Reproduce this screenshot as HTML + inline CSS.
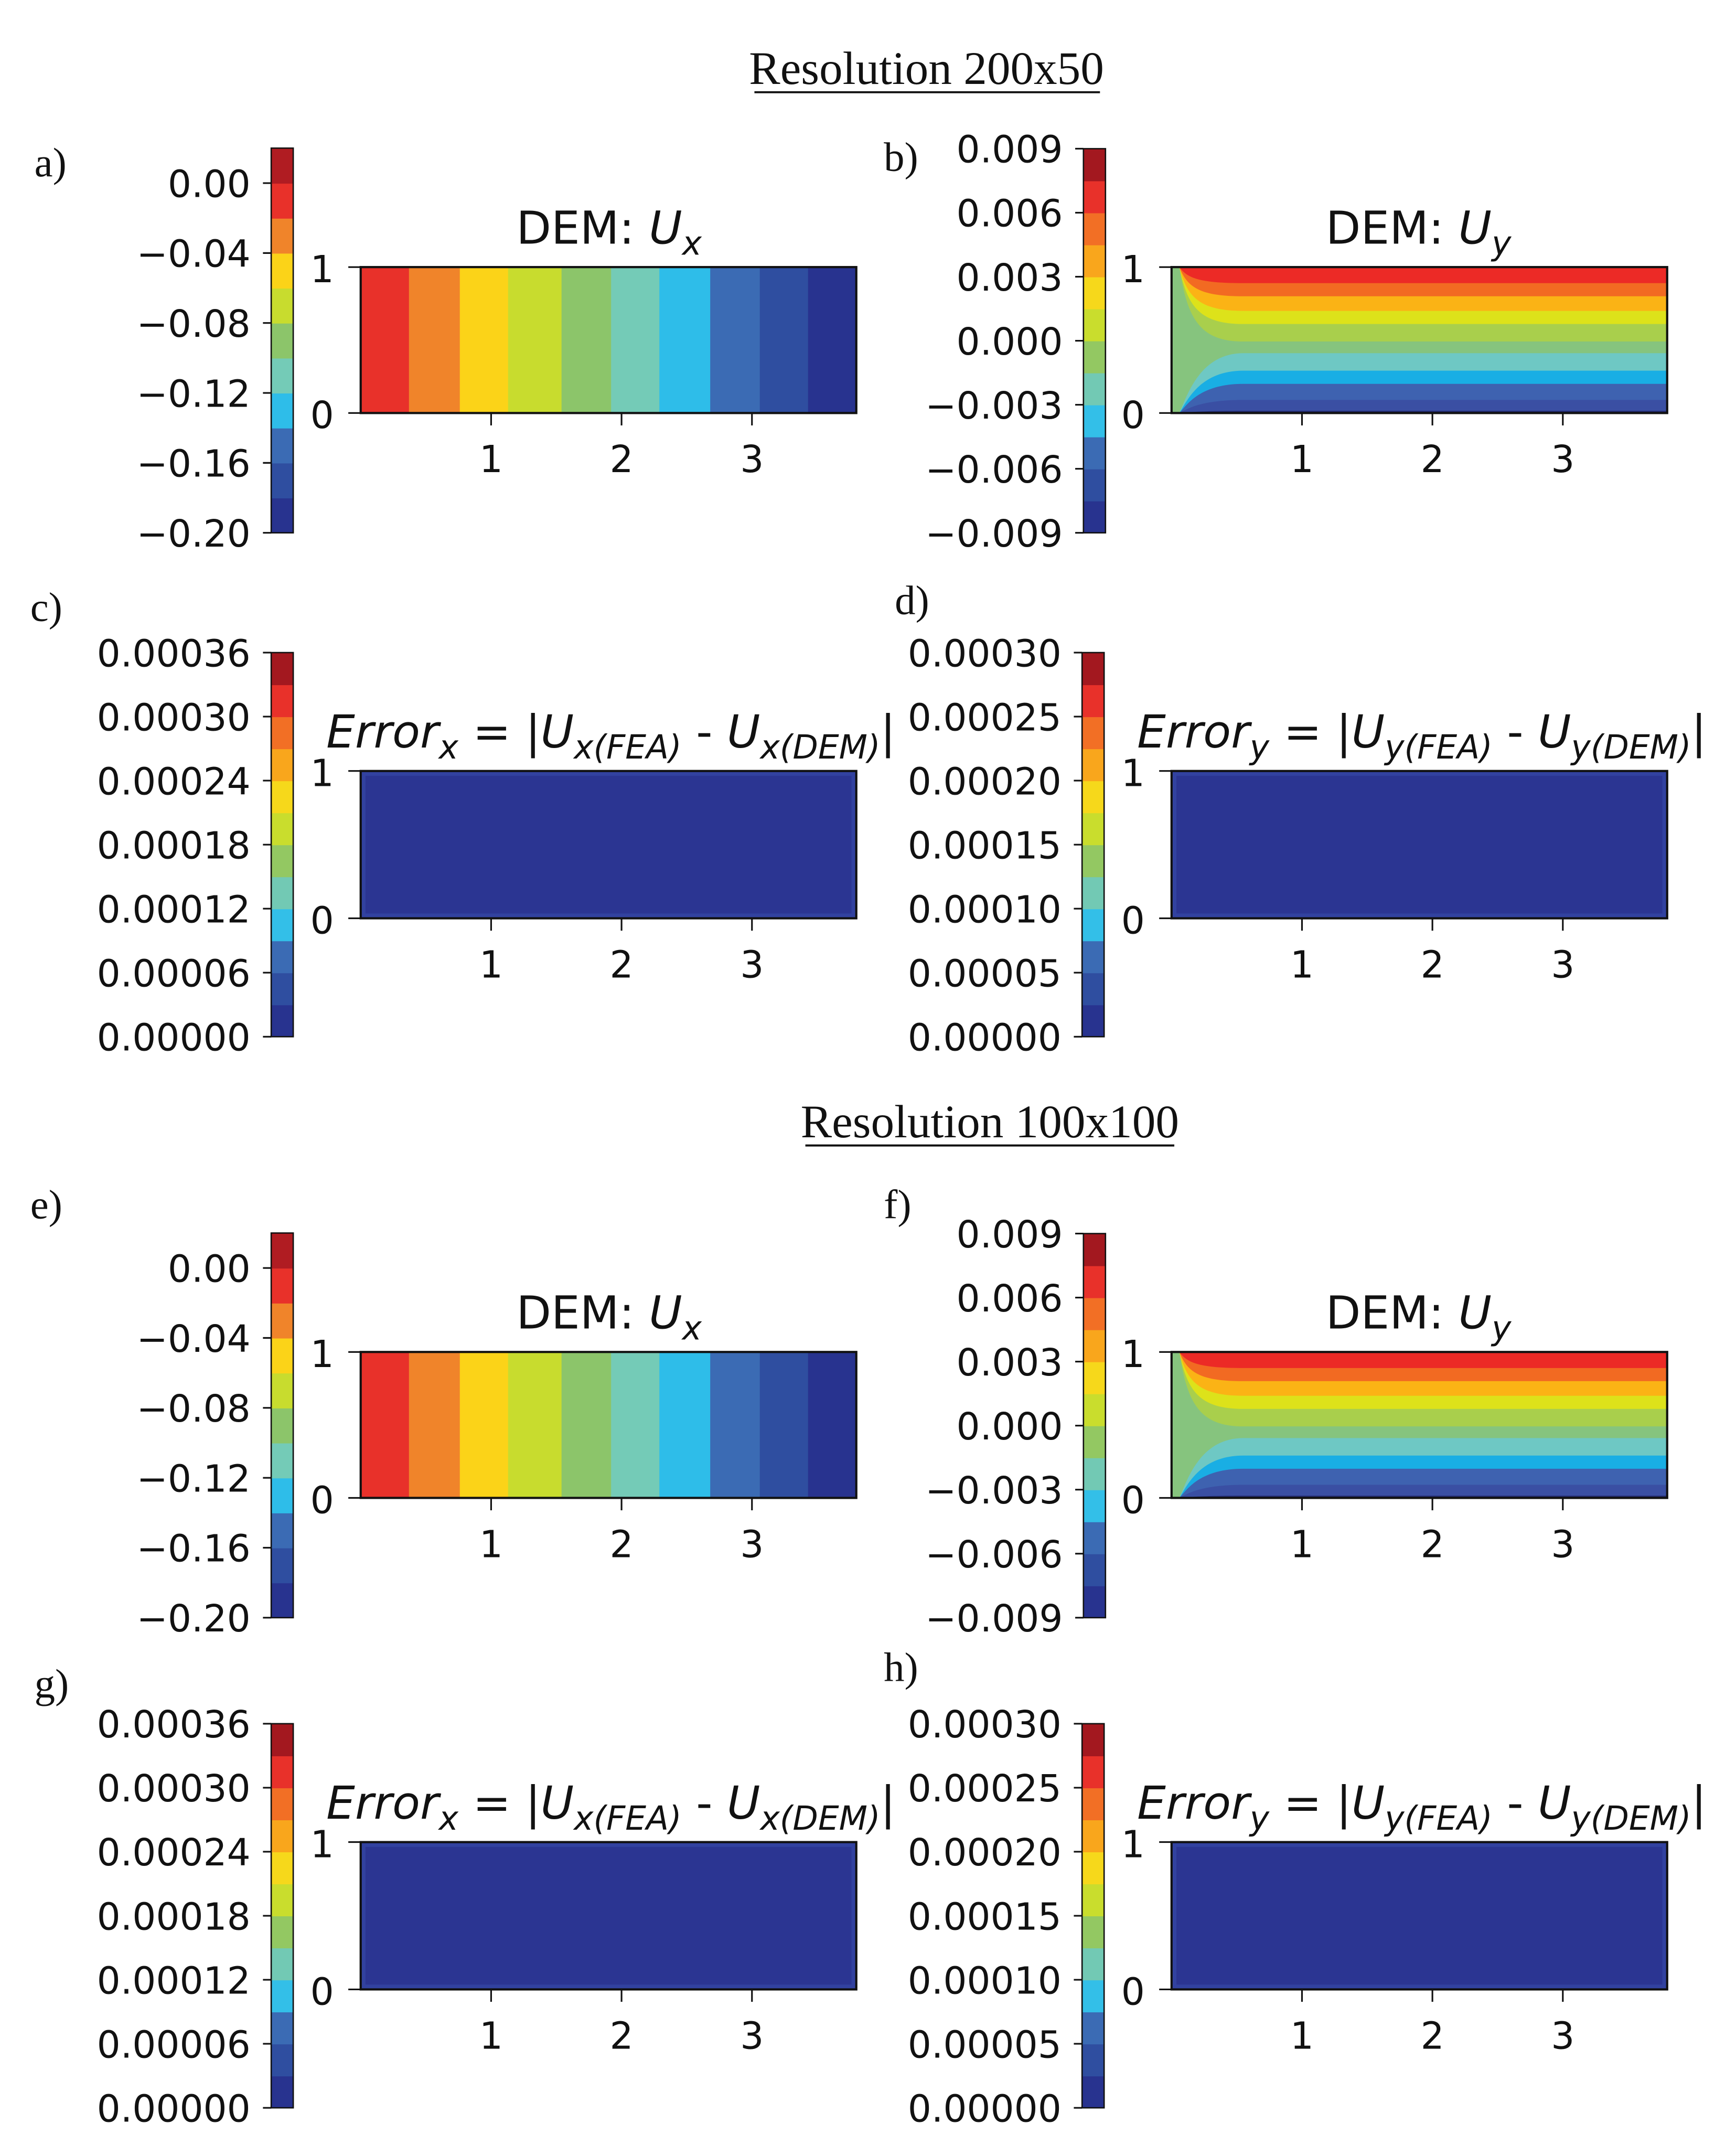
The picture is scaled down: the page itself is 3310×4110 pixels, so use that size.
<!DOCTYPE html>
<html><head><meta charset="utf-8"><style>
html,body{margin:0;padding:0;background:#fff;}
svg{display:block;}
.tk{font-family:"DejaVu Sans","Liberation Sans",sans-serif;font-size:27px;fill:#111;}
.tt{font-family:"DejaVu Sans","Liberation Sans",sans-serif;font-size:33px;fill:#111;}
.sf{font-family:"Liberation Serif",serif;fill:#111;}
</style></head><body>
<svg id="fig" xmlns="http://www.w3.org/2000/svg" width="3310" height="4110" viewBox="0 0 1261 1566" preserveAspectRatio="none">
<text class="sf" x="673" y="61" font-size="34" text-anchor="middle">Resolution 200x50</text>
<line x1="548" x2="799" y1="67" y2="67" stroke="#111" stroke-width="1.5"/>
<text class="sf" x="719" y="826" font-size="34" text-anchor="middle">Resolution 100x100</text>
<line x1="585" x2="853" y1="832" y2="832" stroke="#111" stroke-width="1.5"/>
<g id="panels"></g>
</svg>
<script>
// ---------- data ----------
const uxTickValues = [0.00, -0.04, -0.08, -0.12, -0.16, -0.20];
const uxTickLabels = ["0.00", "\u22120.04", "\u22120.08", "\u22120.12", "\u22120.16", "\u22120.20"];
const uxLevels = [-0.20, -0.18, -0.16, -0.14, -0.12, -0.10, -0.08, -0.06, -0.04, -0.02, 0.00, 0.02];
const uxBandEdgesX = [0, 0.37, 0.76, 1.13, 1.54, 1.92, 2.29, 2.68, 3.06, 3.43, 3.8];
const uxBandValues = [-0.01, -0.03, -0.05, -0.07, -0.09, -0.11, -0.13, -0.15, -0.17, -0.19];

const uyTickValues = [0.009, 0.006, 0.003, 0.000, -0.003, -0.006, -0.009];
const uyTickLabels = ["0.009", "0.006", "0.003", "0.000", "\u22120.003", "\u22120.006", "\u22120.009"];
const uyLevels = [-0.009, -0.0075, -0.006, -0.0045, -0.003, -0.0015, 0, 0.0015, 0.003, 0.0045, 0.006, 0.0075, 0.009];
const uyBoundaryY = [0.89, 0.80, 0.70, 0.61, 0.49, 0.41, 0.29, 0.20, 0.09, 0.015];
const uyBandValues = [0.0068, 0.0053, 0.0038, 0.0023, 0.0008, -0.0007, -0.0022, -0.0037, -0.0052, -0.0067, -0.0082];

const exTickValues = [0.00036, 0.00030, 0.00024, 0.00018, 0.00012, 0.00006, 0.00000];
const exTickLabels = ["0.00036", "0.00030", "0.00024", "0.00018", "0.00012", "0.00006", "0.00000"];
const exLevels = [0, 0.00003, 0.00006, 0.00009, 0.00012, 0.00015, 0.00018, 0.00021, 0.00024, 0.00027, 0.00030, 0.00033, 0.00036];
const exFieldValue = [0.00001];

const eyTickValues = [0.00030, 0.00025, 0.00020, 0.00015, 0.00010, 0.00005, 0.00000];
const eyTickLabels = ["0.00030", "0.00025", "0.00020", "0.00015", "0.00010", "0.00005", "0.00000"];
const eyLevels = [0, 0.000025, 0.00005, 0.000075, 0.0001, 0.000125, 0.00015, 0.000175, 0.0002, 0.000225, 0.00025, 0.000275, 0.0003];
const eyFieldValue = [0.00001];

const xTickValues = [1, 2, 3];
const xTickLabels = ["1", "2", "3"];
const yTickValues = [0, 1];
const yTickLabels = ["0", "1"];

// palettes (style)
const pal11 = ["#28338f","#2f4ea0","#3b6bb4","#2ebde9","#74cbb7","#8cc56a","#c8dc2e","#fbd318","#f0842a","#e8312a","#b01c22"];
const pal12 = ["#222a70","#3a4fa3","#3e62b0","#19aee4","#6ec8c4","#86c47e","#a9cf4c","#dde21a","#fbb315","#f26a22","#ec2a26","#a3181f"];
const pal12cb = ["#28338f","#2f4ea0","#3b6bb4","#33bfe8","#72c9b4","#93c862","#c9dd2d","#f6d81b","#f9a61c","#f26f25","#e8312a","#a3181f"];

const NS = "http://www.w3.org/2000/svg";
const root = document.getElementById("panels");
function mk(tag, attrs, parent) {
  const e = document.createElementNS(NS, tag);
  for (const k in attrs) e.setAttribute(k, attrs[k]);
  (parent || root).appendChild(e);
  return e;
}
function colorFor(v, levels, pal) {
  for (let i = 0; i < levels.length - 1; i++) if (v >= levels[i] && v < levels[i + 1]) return pal[i];
  return v < levels[0] ? pal[0] : pal[pal.length - 1];
}

function colorbar(g, cb, levels, pal, tickVals, tickLabels, name) {
  const y = v => cb.y0 + (v - tickVals[0]) / (tickVals[tickVals.length - 1] - tickVals[0]) * (cb.y1 - cb.y0);
  for (let i = 0; i < levels.length - 1; i++) {
    const ya = y(levels[i + 1]), yb = y(levels[i]);
    const r = mk("rect", {x: cb.x, y: Math.min(ya, yb), width: 16, height: Math.abs(yb - ya) + 0.4, fill: pal[i]}, g);
    
    
  }
  const top = y(levels[levels.length - 1]), bot = y(levels[0]);
  const fr = mk("rect", {x: cb.x, y: Math.min(top, bot), width: 16, height: Math.abs(bot - top), fill: "none", stroke: "#111", "stroke-width": 1}, g);
  
  
  tickVals.forEach((v, i) => {
    const yy = y(v);
    const l = mk("line", {x1: cb.x - 6, x2: cb.x, y1: yy, y2: yy, stroke: "#111", "stroke-width": 1.2}, g);
    
    
    const t = mk("text", {x: cb.x - 15, y: yy + 10, "text-anchor": "end", class: "tk"}, g);
    t.textContent = tickLabels[i];
    
    
  });
}

function axes(P) {
  const X = v => P.x0 + v / 3.8 * (P.x1 - P.x0);
  const Y = v => P.y1 - v * (P.y1 - P.y0);
  return {X, Y};
}
function axisDecor(g, P, name) {
  const {X, Y} = axes(P);
  const fr = mk("rect", {x: P.x0, y: P.y0, width: P.x1 - P.x0, height: P.y1 - P.y0, fill: "none", stroke: "#111", "stroke-width": 1.6}, g);
  
  
  xTickValues.forEach((v, i) => {
    const l = mk("line", {x1: X(v), x2: X(v), y1: P.y1, y2: P.y1 + 9, stroke: "#111", "stroke-width": 1.2}, g);
    
    
    const t = mk("text", {x: X(v), y: P.y1 + 43, "text-anchor": "middle", class: "tk"}, g);
    t.textContent = xTickLabels[i];
    
    
  });
  yTickValues.forEach((v, i) => {
    const l = mk("line", {x1: P.x0 - 9, x2: P.x0, y1: Y(v), y2: Y(v), stroke: "#111", "stroke-width": 1.2}, g);
    
    
    const t = mk("text", {x: P.x0 - 28, y: Y(v) + 11, "text-anchor": "middle", class: "tk"}, g);
    t.textContent = yTickLabels[i];
    
    
  });
}
function title(g, x, y, html, name) {
  const t = mk("text", {x: x, y: y, class: "tt"}, g);
  t.innerHTML = html;
  
  
}
function letter(g, x, y, s) {
  const t = mk("text", {x: x, y: y, class: "sf", "font-size": 30}, g);
  t.textContent = s;
  
  
}

function panelUx(dy, lab) {
  const g = mk("g", {});
  
  
  const P = {x0: 262, x1: 622, y0: 194 + dy, y1: 300 + dy};
  const {X, Y} = axes(P);
  for (let i = 0; i < uxBandValues.length; i++) {
    const r = mk("rect", {x: X(uxBandEdgesX[i]), y: P.y0, width: X(uxBandEdgesX[i + 1]) - X(uxBandEdgesX[i]) + 0.5, height: P.y1 - P.y0, fill: colorFor(uxBandValues[i], uxLevels, pal11)}, g);
    
    
  }
  axisDecor(g, P, 'ux-' + lab);
  colorbar(g, {x: 197, y0: 133 + dy, y1: 387 + dy}, uxLevels, pal11, uxTickValues, uxTickLabels, 'ux-' + lab + '-colorbar');
  title(g, 375, 177 + dy, 'DEM: <tspan font-style="italic">U</tspan><tspan font-style="italic" font-size="24" dy="8">x</tspan>', 'ux-' + lab + '-title');
  letter(g, lab === 'a' ? 25 : 22, (lab === 'a' ? 128 : 885), lab + ')');
}

function panelUy(dy, lab) {
  const g = mk("g", {});
  
  
  const P = {x0: 851, x1: 1211, y0: 194 + dy, y1: 300 + dy};
  const {X, Y} = axes(P);
  const bg = mk("rect", {x: P.x0, y: P.y0, width: P.x1 - P.x0, height: P.y1 - P.y0, fill: colorFor(uyBandValues[5], uyLevels, pal12)}, g);
  
  
  for (let k = 4; k >= 0; k--) {
    const yk = uyBoundaryY[k];
    const d = `M${X(0)},${Y(1)} L${X(0.06)},${Y(1)} C${X(0.12)},${Y(yk + (1 - yk) * 0.3)} ${X(0.22)},${Y(yk)} ${X(0.55)},${Y(yk)} L${X(3.8)},${Y(yk)} L${X(3.8)},${Y(1)} Z`;
    const p = mk("path", {d: d, fill: colorFor(uyBandValues[k], uyLevels, pal12)}, g);
    
    
  }
  for (let k = 5; k < uyBoundaryY.length; k++) {
    const yk = uyBoundaryY[k];
    const d = `M${X(0)},${Y(0)} L${X(0.06)},${Y(0)} C${X(0.12)},${Y(yk * 0.3)} ${X(0.22)},${Y(yk)} ${X(0.55)},${Y(yk)} L${X(3.8)},${Y(yk)} L${X(3.8)},${Y(0)} Z`;
    const p = mk("path", {d: d, fill: colorFor(uyBandValues[k + 1], uyLevels, pal12)}, g);
    
    
  }
  axisDecor(g, P, 'uy-' + lab);
  colorbar(g, {x: 787, y0: 108 + dy, y1: 387 + dy}, uyLevels, pal12cb, uyTickValues, uyTickLabels, 'uy-' + lab + '-colorbar');
  title(g, 963, 177 + dy, 'DEM: <tspan font-style="italic">U</tspan><tspan font-style="italic" font-size="24" dy="8">y</tspan>', 'uy-' + lab + '-title');
  letter(g, 642, lab === 'b' ? 124 : 885, lab + ')');
}

function panelErr(dy, lab, isX) {
  const g = mk("g", {});
  
  
  const ox = isX ? 0 : 589;
  const P = {x0: 262 + ox, x1: 622 + ox, y0: 560 + dy, y1: 667 + dy};
  const levels = isX ? exLevels : eyLevels;
  const val = isX ? exFieldValue[0] : eyFieldValue[0];
  const r = mk("rect", {x: P.x0, y: P.y0, width: P.x1 - P.x0, height: P.y1 - P.y0, fill: colorFor(val, levels, ["#2b3592"].concat(pal12cb.slice(1)))}, g);
  
  
  const hl = mk("rect", {x: P.x0 + 2, y: P.y0 + 2, width: P.x1 - P.x0 - 4, height: P.y1 - P.y0 - 4, fill: "none", stroke: "#3242a0", "stroke-width": 3}, g);
  
  
  axisDecor(g, P, 'err-' + lab);
  colorbar(g, {x: 197 + ox, y0: 474 + dy, y1: 753 + dy}, levels, pal12cb, isX ? exTickValues : eyTickValues, isX ? exTickLabels : eyTickLabels, 'err-' + lab + '-colorbar');
  const c = isX ? 'x' : 'y';
  title(g, 237 + ox, 543 + dy, `<tspan font-style="italic">Error</tspan><tspan font-style="italic" font-size="24" dy="8">${c}</tspan><tspan dy="-8"> = |</tspan><tspan font-style="italic">U</tspan><tspan font-style="italic" font-size="24" dy="8">${c}(FEA)</tspan><tspan dy="-8"> - </tspan><tspan font-style="italic">U</tspan><tspan font-style="italic" font-size="24" dy="8">${c}(DEM)</tspan><tspan dy="-8">|</tspan>`, 'err-' + lab + '-title');
  const lx = isX ? (lab === 'c' ? 22 : 25) : (lab === 'd' ? 650 : 642);
  const ly = lab === 'c' ? 451 : lab === 'd' ? 446 : lab === 'g' ? 1233 : 1221;
  letter(g, lx, ly, lab + ')');
}

panelUx(0, 'a');
panelUy(0, 'b');
panelErr(0, 'c', true);
panelErr(0, 'd', false);
panelUx(788, 'e');
panelUy(788, 'f');
panelErr(778, 'g', true);
panelErr(778, 'h', false);
</script>
</body></html>
